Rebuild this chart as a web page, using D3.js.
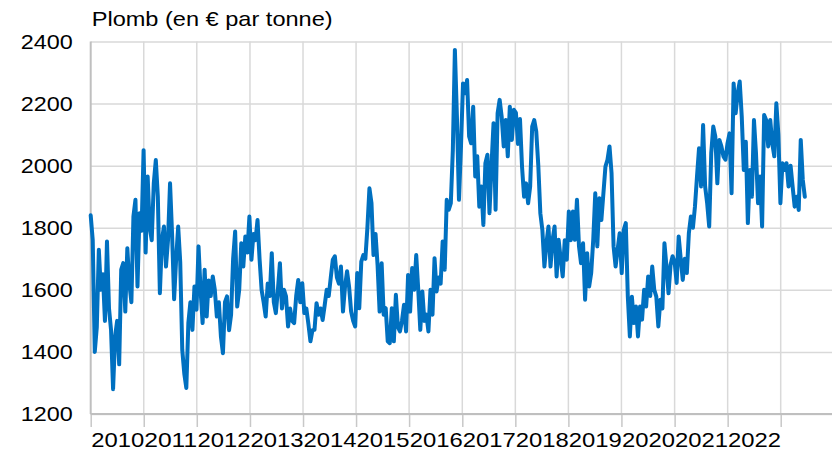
<!DOCTYPE html>
<html>
<head>
<meta charset="utf-8">
<script src="https://cdn.jsdelivr.net/npm/d3@7"></script>
<style>
  body { margin: 0; background: #fff; }
  svg { display: block; font-family: "Liberation Sans", Arial, sans-serif; }
</style>
</head>
<body>
<svg id="chart" width="837" height="454"></svg>
<script>
// lead price, EUR per tonne, one reading every two weeks from Jan 2010
const startDate = new Date(2010, 0, 1);
const stepDays = 14;
const prices = [
  1840,1760,1400,1480,1729,1600,1650,1500,1756,1540,1470,1280,1450,1500,1360,1665,
  1686,1530,1734,1620,1560,1836,1890,1611,1847,1790,2050,1720,1965,1800,1760,1943,
  2018,1900,1589,1760,1804,1675,1760,1943,1780,1570,1700,1804,1690,1407,1330,1284,
  1493,1560,1471,1611,1536,1740,1600,1493,1665,1514,1630,1580,1643,1600,1514,1560,
  1450,1396,1560,1579,1470,1520,1700,1788,1546,1600,1750,1675,1772,1720,1836,1697,
  1780,1760,1825,1700,1600,1560,1514,1620,1580,1718,1560,1525,1600,1686,1540,1600,
  1579,1482,1540,1500,1493,1580,1632,1560,1621,1525,1540,1490,1434,1470,1471,1557,
  1520,1540,1503,1550,1600,1580,1640,1697,1708,1640,1620,1675,1530,1610,1660,1610,
  1530,1500,1482,1654,1541,1691,1712,1700,1800,1927,1880,1712,1780,1680,1530,1686,
  1520,1541,1434,1428,1541,1434,1584,1480,1466,1500,1552,1466,1648,1530,1670,1600,
  1712,1600,1471,1595,1500,1520,1466,1600,1520,1702,1595,1640,1620,1756,1665,1890,
  1858,1879,2051,2373,2158,1890,2062,2265,2233,2276,2094,2072,2190,1965,2030,1868,
  1933,1809,2008,2035,1847,2000,2137,1858,2169,2212,2158,2062,2147,2030,2190,2083,
  2180,2170,2070,2150,1997,1900,1943,1879,1933,2126,2147,2110,2000,1847,1793,1675,
  1750,1804,1675,1760,1804,1643,1761,1700,1643,1760,1697,1852,1760,1852,1761,1890,
  1740,1686,1750,1568,1718,1611,1654,1761,1911,1740,1895,1825,1911,1997,2019,2062,
  1976,1740,1675,1730,1782,1654,1793,1815,1578,1450,1578,1493,1546,1450,1546,1504,
  1600,1546,1643,1580,1675,1600,1578,1482,1568,1540,1750,1675,1589,1680,1708,1690,
  1622,1772,1700,1632,1700,1654,1782,1836,1800,1868,1965,2056,1933,2131,1933,1879,
  1804,2040,2126,2094,1943,2083,2062,2030,2019,2072,2104,1911,2265,2169,2233,2271,
  2158,1986,2077,1815,1986,1900,2147,2040,1879,1965,1804,2163,2147,2062,2147,2072,
  2030,2201,2100,1879,2008,1986,2008,1933,2000,1933,1868,1900,1857,2083,1954,1900
];
const yTicks = [1200, 1400, 1600, 1800, 2000, 2200, 2400];
const yearTicks = d3.range(2010, 2024);
const yearLabels = d3.range(2010, 2023);
const title = "Plomb (en € par tonne)";

const data = prices.map((v, i) => ({ date: d3.timeDay.offset(startDate, i * stepDays), value: v }));

const svg = d3.select("#chart"),
      margin = { top: 41.5, right: 5, bottom: 40, left: 90.7 },
      width = +svg.attr("width") - margin.left - margin.right,
      height = +svg.attr("height") - margin.top - margin.bottom;

const g = svg.append("g")
    .attr("transform", `translate(${margin.left},${margin.top})`);

const x = d3.scaleTime()
    .domain([new Date(2010, 0, 1), new Date(2023, 11, 20)])
    .range([0, width]);

const y = d3.scaleLinear()
    .domain([1200, 2400])
    .range([height, 0]);

// horizontal grid
g.append("g")
    .call(d3.axisLeft(y).tickValues(yTicks).tickSize(-width).tickFormat(""))
    .call(a => a.select(".domain").remove())
    .selectAll("line")
    .attr("stroke", "#d9d9d9")
    .attr("stroke-width", 1.5);

// vertical grid
g.append("g")
    .selectAll("line")
    .data(yearTicks.slice(1))
    .enter()
    .append("line")
    .attr("x1", d => x(new Date(d, 0, 1)))
    .attr("x2", d => x(new Date(d, 0, 1)))
    .attr("y1", 0)
    .attr("y2", height)
    .attr("stroke", "#d9d9d9")
    .attr("stroke-width", 1.5);

// Y axis labels
const yAxis = g.append("g")
    .call(d3.axisLeft(y).tickValues(yTicks).tickSize(0).tickPadding(18).tickFormat(d3.format("d")));
yAxis.select(".domain").remove();
yAxis.selectAll("text")
    .attr("font-size", "21px")
    .attr("fill", "#000")
    .attr("textLength", 52)
    .attr("lengthAdjust", "spacingAndGlyphs");

// X axis ticks at year starts
const xTickAxis = g.append("g")
    .attr("transform", `translate(0,${height})`)
    .call(d3.axisBottom(x).tickValues(yearTicks.map(d => new Date(d, 0, 1))).tickSize(13).tickFormat(""));
xTickAxis.select(".domain").remove();
xTickAxis.selectAll("line").attr("stroke", "#c8c8c8").attr("stroke-width", 1.5);

// X labels centred in each year
const xLabelAxis = g.append("g")
    .attr("transform", `translate(0,${height})`)
    .call(d3.axisBottom(x).tickValues(yearLabels.map(d => new Date(d, 6, 2))).tickSize(0).tickPadding(18).tickFormat(d3.timeFormat("%Y")));
xLabelAxis.select(".domain").remove();
xLabelAxis.selectAll("text")
    .attr("font-size", "21px")
    .attr("fill", "#000")
    .attr("textLength", 53)
    .attr("lengthAdjust", "spacingAndGlyphs");

// axis lines
g.append("line")
    .attr("x1", 0).attr("x2", 0).attr("y1", 0).attr("y2", height)
    .attr("stroke", "#bfbfbf").attr("stroke-width", 2);
g.append("line")
    .attr("x1", 0).attr("x2", width).attr("y1", height).attr("y2", height)
    .attr("stroke", "#bfbfbf").attr("stroke-width", 2);

// price line
g.append("path")
    .datum(data)
    .attr("fill", "none")
    .attr("stroke", "#0070c0")
    .attr("stroke-width", 4)
    .attr("stroke-linejoin", "round")
    .attr("stroke-linecap", "round")
    .attr("d", d3.line().x(d => x(d.date)).y(d => y(d.value)));

// title
svg.append("text")
    .attr("x", 91.7)
    .attr("y", 26)
    .attr("font-size", "21px")
    .attr("fill", "#000")
    .attr("textLength", 241)
    .attr("lengthAdjust", "spacingAndGlyphs")
    .text(title);
</script>
</body>
</html>
